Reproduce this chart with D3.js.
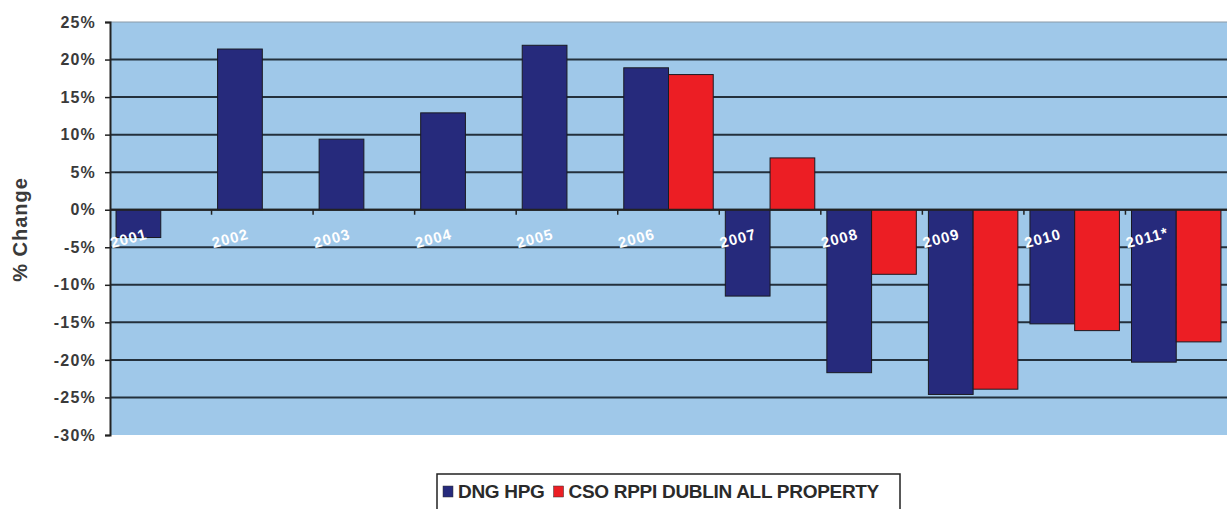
<!DOCTYPE html>
<html>
<head>
<meta charset="utf-8">
<script src="https://cdn.jsdelivr.net/npm/d3@7"></script>
<style>
  html, body { margin: 0; padding: 0; background: #fff; }
  svg { display: block; font-family: "Liberation Sans", Arial, sans-serif; }
</style>
</head>
<body>
<svg id="chart"></svg>
<script>
// Data
const years = ['2001', '2002', '2003', '2004', '2005', '2006', '2007', '2008', '2009', '2010', '2011*'];
const dngHpg = [-3.7, 21.4, 9.4, 12.9, 21.9, 18.9, -11.5, -21.7, -24.6, -15.2, -20.3];
const csoRppi = [null, null, null, null, null, 18.0, 6.9, -8.6, -23.9, -16.1, -17.6];
const yTicks = [25, 20, 15, 10, 5, 0, -5, -10, -15, -20, -25, -30];
const seriesNames = ['DNG HPG', 'CSO RPPI DUBLIN ALL PROPERTY'];

(function() {
    'use strict';

    const W = 1228, H = 509;
    const colors = { blue: '#262a7c', red: '#ec1e24', plot: '#9fc8e9', grid: '#23303c' };
    const plot = { left: 110, right: 1227, top: 22, bottom: 435 };

    const svg = d3.select('#chart').attr('width', W).attr('height', H);

    const x = d3.scaleBand()
        .domain(years)
        .range([plot.left, plot.right]);

    const xInner = d3.scaleBand()
        .domain([0, 1])
        .range([0, x.bandwidth()])
        .paddingOuter(0.135);

    const y = d3.scaleLinear()
        .domain([-30, 25])
        .range([plot.bottom, plot.top]);

    // Plot background
    svg.append('rect')
        .attr('x', plot.left)
        .attr('y', plot.top)
        .attr('width', plot.right - plot.left)
        .attr('height', plot.bottom - plot.top)
        .attr('fill', colors.plot);

    svg.append('line')
        .attr('x1', plot.left).attr('x2', plot.right)
        .attr('y1', plot.top).attr('y2', plot.top)
        .attr('stroke', '#8a9aa8').attr('stroke-width', 1);

    // Gridlines
    svg.append('g')
        .selectAll('line')
        .data(yTicks.filter(d => d !== 25 && d !== -30))
        .join('line')
        .attr('x1', plot.left).attr('x2', plot.right)
        .attr('y1', d => y(d)).attr('y2', d => y(d))
        .attr('stroke', colors.grid)
        .attr('stroke-width', 2);

    // Bars
    const rows = years.map((yr, i) => ({ year: yr, values: [dngHpg[i], csoRppi[i]] }));
    const fills = [colors.blue, colors.red];

    svg.append('g')
        .selectAll('g')
        .data(rows)
        .join('g')
        .attr('transform', d => `translate(${x(d.year)},0)`)
        .selectAll('rect')
        .data(d => d.values.map((v, k) => ({ k, v })).filter(e => e.v !== null))
        .join('rect')
        .attr('x', d => xInner(d.k))
        .attr('width', xInner.bandwidth())
        .attr('y', d => y(Math.max(0, d.v)))
        .attr('height', d => Math.abs(y(d.v) - y(0)))
        .attr('fill', d => fills[d.k])
        .attr('stroke', '#1a1a22')
        .attr('stroke-width', 1);

    // Y axis
    const yAxis = svg.append('g')
        .attr('transform', `translate(${plot.left},0)`)
        .call(d3.axisLeft(y).tickValues(yTicks).tickSize(5).tickFormat(d => d + '%'));
    yAxis.select('.domain').attr('stroke', '#222').attr('stroke-width', 2);
    yAxis.selectAll('.tick line').attr('stroke', '#222').attr('stroke-width', 1.5);
    yAxis.selectAll('.tick text')
        .attr('x', -14)
        .attr('fill', '#3a3a3a')
        .attr('font-size', 16)
        .attr('font-weight', 'bold')
        .attr('letter-spacing', 1.2)
        .attr('font-family', '"Liberation Sans", Arial, sans-serif');

    // X axis along the zero line
    const xAxis = svg.append('g')
        .attr('transform', `translate(0,${y(0)})`);
    xAxis.append('line')
        .attr('x1', plot.left).attr('x2', plot.right)
        .attr('y1', 0).attr('y2', 0)
        .attr('stroke', '#222').attr('stroke-width', 2);
    xAxis.selectAll('line.tk')
        .data(years.slice(1))
        .join('line')
        .attr('class', 'tk')
        .attr('x1', d => x(d)).attr('x2', d => x(d))
        .attr('y1', 0).attr('y2', 5)
        .attr('stroke', '#222').attr('stroke-width', 1.5);

    // Rotated white category labels
    svg.append('g')
        .selectAll('text')
        .data(years)
        .join('text')
        .attr('transform', d => `translate(${x(d) + 2},${y(-5) + 1}) rotate(-15)`)
        .attr('text-anchor', 'start')
        .attr('fill', '#ffffff')
        .attr('font-size', 15)
        .attr('font-weight', 'bold')
        .attr('letter-spacing', 1)
        .text(d => d);

    // Y title
    svg.append('text')
        .attr('transform', `translate(27,${(plot.top + plot.bottom) / 2 + 1}) rotate(-90)`)
        .attr('text-anchor', 'middle')
        .attr('fill', '#3a3a3a')
        .attr('font-size', 20)
        .attr('font-weight', 'bold')
        .attr('letter-spacing', 1)
        .text('% Change');

    // Legend
    const legend = svg.append('g').attr('transform', 'translate(437,474)');
    legend.append('rect')
        .attr('x', 0).attr('y', 0)
        .attr('width', 463).attr('height', 40)
        .attr('fill', '#fff')
        .attr('stroke', '#222')
        .attr('stroke-width', 1.5);

    let lx = 6;
    seriesNames.forEach((name, i) => {
        legend.append('rect')
            .attr('x', lx).attr('y', 12)
            .attr('width', 10).attr('height', 11)
            .attr('fill', fills[i])
            .attr('stroke', '#333').attr('stroke-width', 0.5);
        const t = legend.append('text')
            .attr('x', lx + 15).attr('y', 24)
            .attr('fill', '#2a2a2a')
            .attr('font-size', 19)
            .attr('font-weight', 'bold')
            .attr('letter-spacing', -0.3)
            .text(name);
        lx += 15 + t.node().getComputedTextLength() + 9;
    });
})();
</script>
</body>
</html>
